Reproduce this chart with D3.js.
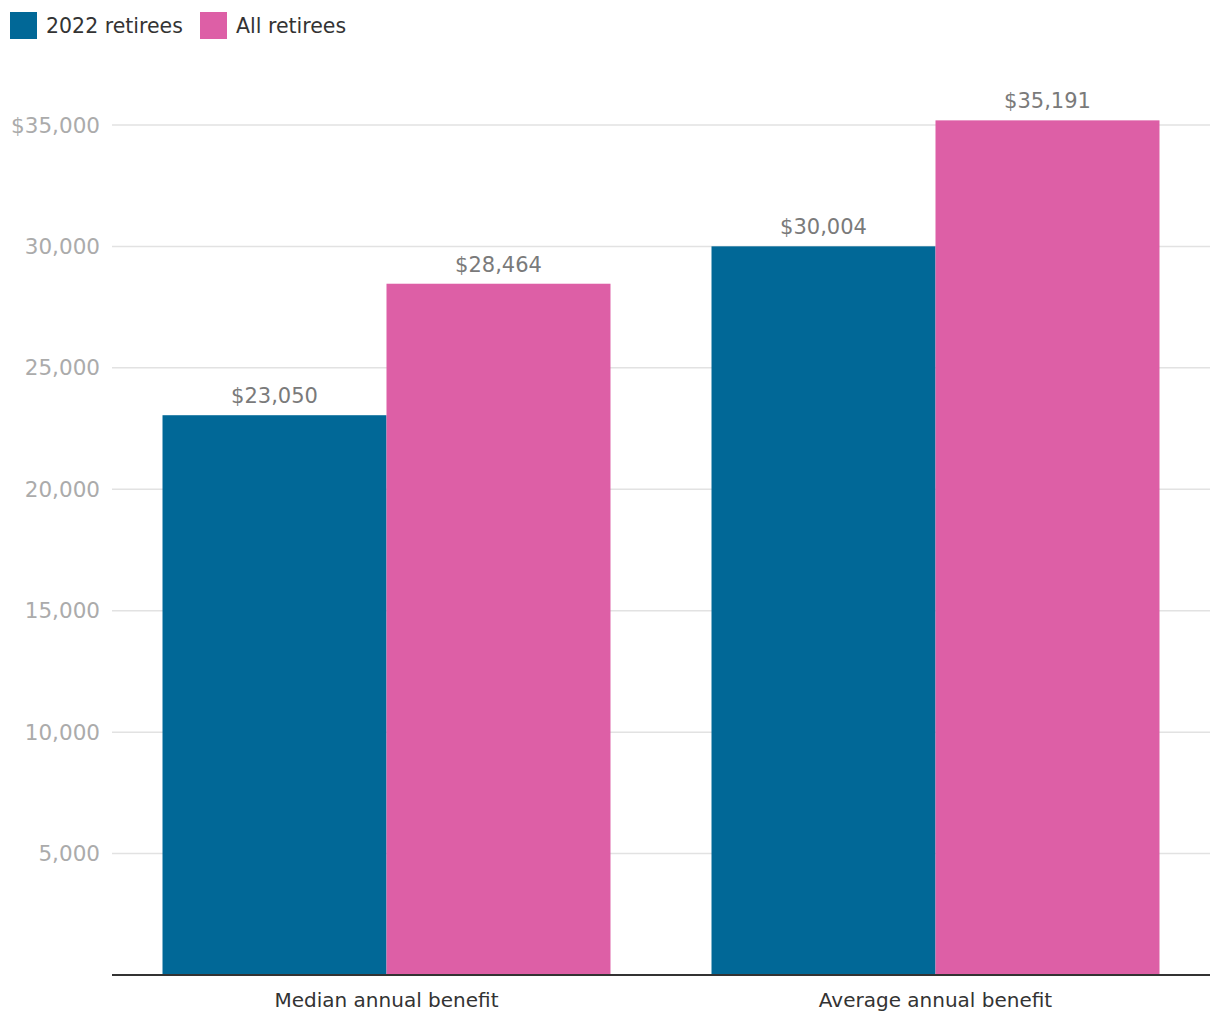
<html>
<head>
    <meta http-equiv="Content-Type" content="text/html;charset=utf-8">
    <title>Retiree benefits</title>
    <style>
        body { margin: 0; background: #fff; font-family: "DejaVu Sans", Roboto, sans-serif; }
    </style>
</head>
<body>
</body>
<script type="text/javascript" src="https://cdn.jsdelivr.net/npm/d3@7/dist/d3.min.js"></script>
<script>
    var w = 1220, h = 1020;
    var categories = ['Median annual benefit', 'Average annual benefit'];
    var seriesNames = ['2022 retirees', 'All retirees'];
    var seriesColors = ['#016897', '#dd5fa6'];
    var retirees2022 = [23050, 30004];
    var allRetirees = [28464, 35191];
    var yTicks = [5000, 10000, 15000, 20000, 25000, 30000, 35000];

    var margin = {top: 0, left: 112, right: 10, bottom: 45};
    var y0 = 975;

    var svg = d3.select('body').append('svg')
        .attr('width', w)
        .attr('height', h);

    var x = d3.scaleBand()
        .domain(categories)
        .range([margin.left, w - margin.right])
        .paddingInner(0.184)
        .paddingOuter(0.092);

    var xs = d3.scaleBand()
        .domain(seriesNames)
        .range([0, x.bandwidth()]);

    var y = d3.scaleLinear()
        .domain([0, 35000])
        .range([y0, 125]);

    // gridlines + tick labels
    var grid = svg.append('g');
    grid.selectAll('line')
        .data(yTicks)
        .enter()
        .append('line')
        .attr('x1', margin.left)
        .attr('x2', w - margin.right)
        .attr('y1', function(d){ return y(d); })
        .attr('y2', function(d){ return y(d); })
        .attr('stroke', '#e2e2e2')
        .attr('stroke-width', 1.5);

    grid.selectAll('text')
        .data(yTicks)
        .enter()
        .append('text')
        .attr('x', 100)
        .attr('y', function(d){ return y(d); })
        .attr('dy', '0.35em')
        .attr('text-anchor', 'end')
        .attr('fill', '#ababab')
        .style('font-size', '21.5px')
        .text(function(d){
            var s = d3.format(',')(d);
            return d === 35000 ? '$' + s : s;
        });

    var rows = [];
    categories.forEach(function(c, i){
        rows.push({cat: c, series: seriesNames[0], value: retirees2022[i], color: seriesColors[0]});
        rows.push({cat: c, series: seriesNames[1], value: allRetirees[i], color: seriesColors[1]});
    });

    svg.append('g').selectAll('rect')
        .data(rows)
        .enter()
        .append('rect')
        .attr('x', function(d){ return x(d.cat) + xs(d.series); })
        .attr('y', function(d){ return y(d.value); })
        .attr('width', xs.bandwidth())
        .attr('height', function(d){ return y0 - y(d.value); })
        .attr('fill', function(d){ return d.color; });

    svg.append('g').selectAll('text')
        .data(rows)
        .enter()
        .append('text')
        .attr('x', function(d){ return x(d.cat) + xs(d.series) + xs.bandwidth() / 2; })
        .attr('y', function(d){ return y(d.value) - 12; })
        .attr('text-anchor', 'middle')
        .attr('fill', '#7a7a7a')
        .style('font-size', '21px')
        .text(function(d){ return '$' + d3.format(',')(d.value); });

    // baseline
    svg.append('line')
        .attr('x1', margin.left)
        .attr('x2', w - margin.right)
        .attr('y1', y0)
        .attr('y2', y0)
        .attr('stroke', '#333')
        .attr('stroke-width', 2);

    svg.append('g').selectAll('text')
        .data(categories)
        .enter()
        .append('text')
        .attr('x', function(d){ return x(d) + x.bandwidth() / 2; })
        .attr('y', 1007)
        .attr('text-anchor', 'middle')
        .attr('fill', '#333')
        .style('font-size', '20px')
        .text(function(d){ return d; });

    // legend
    var legend = svg.append('g');
    var legendX = [10, 200];
    seriesNames.forEach(function(s, i){
        legend.append('rect')
            .attr('x', legendX[i])
            .attr('y', 12)
            .attr('width', 27)
            .attr('height', 27)
            .attr('fill', seriesColors[i]);
        legend.append('text')
            .attr('x', legendX[i] + 36)
            .attr('y', 26)
            .attr('dy', '0.35em')
            .attr('fill', '#333')
            .style('font-size', '20.5px')
            .text(s);
    });
</script>
</html>
